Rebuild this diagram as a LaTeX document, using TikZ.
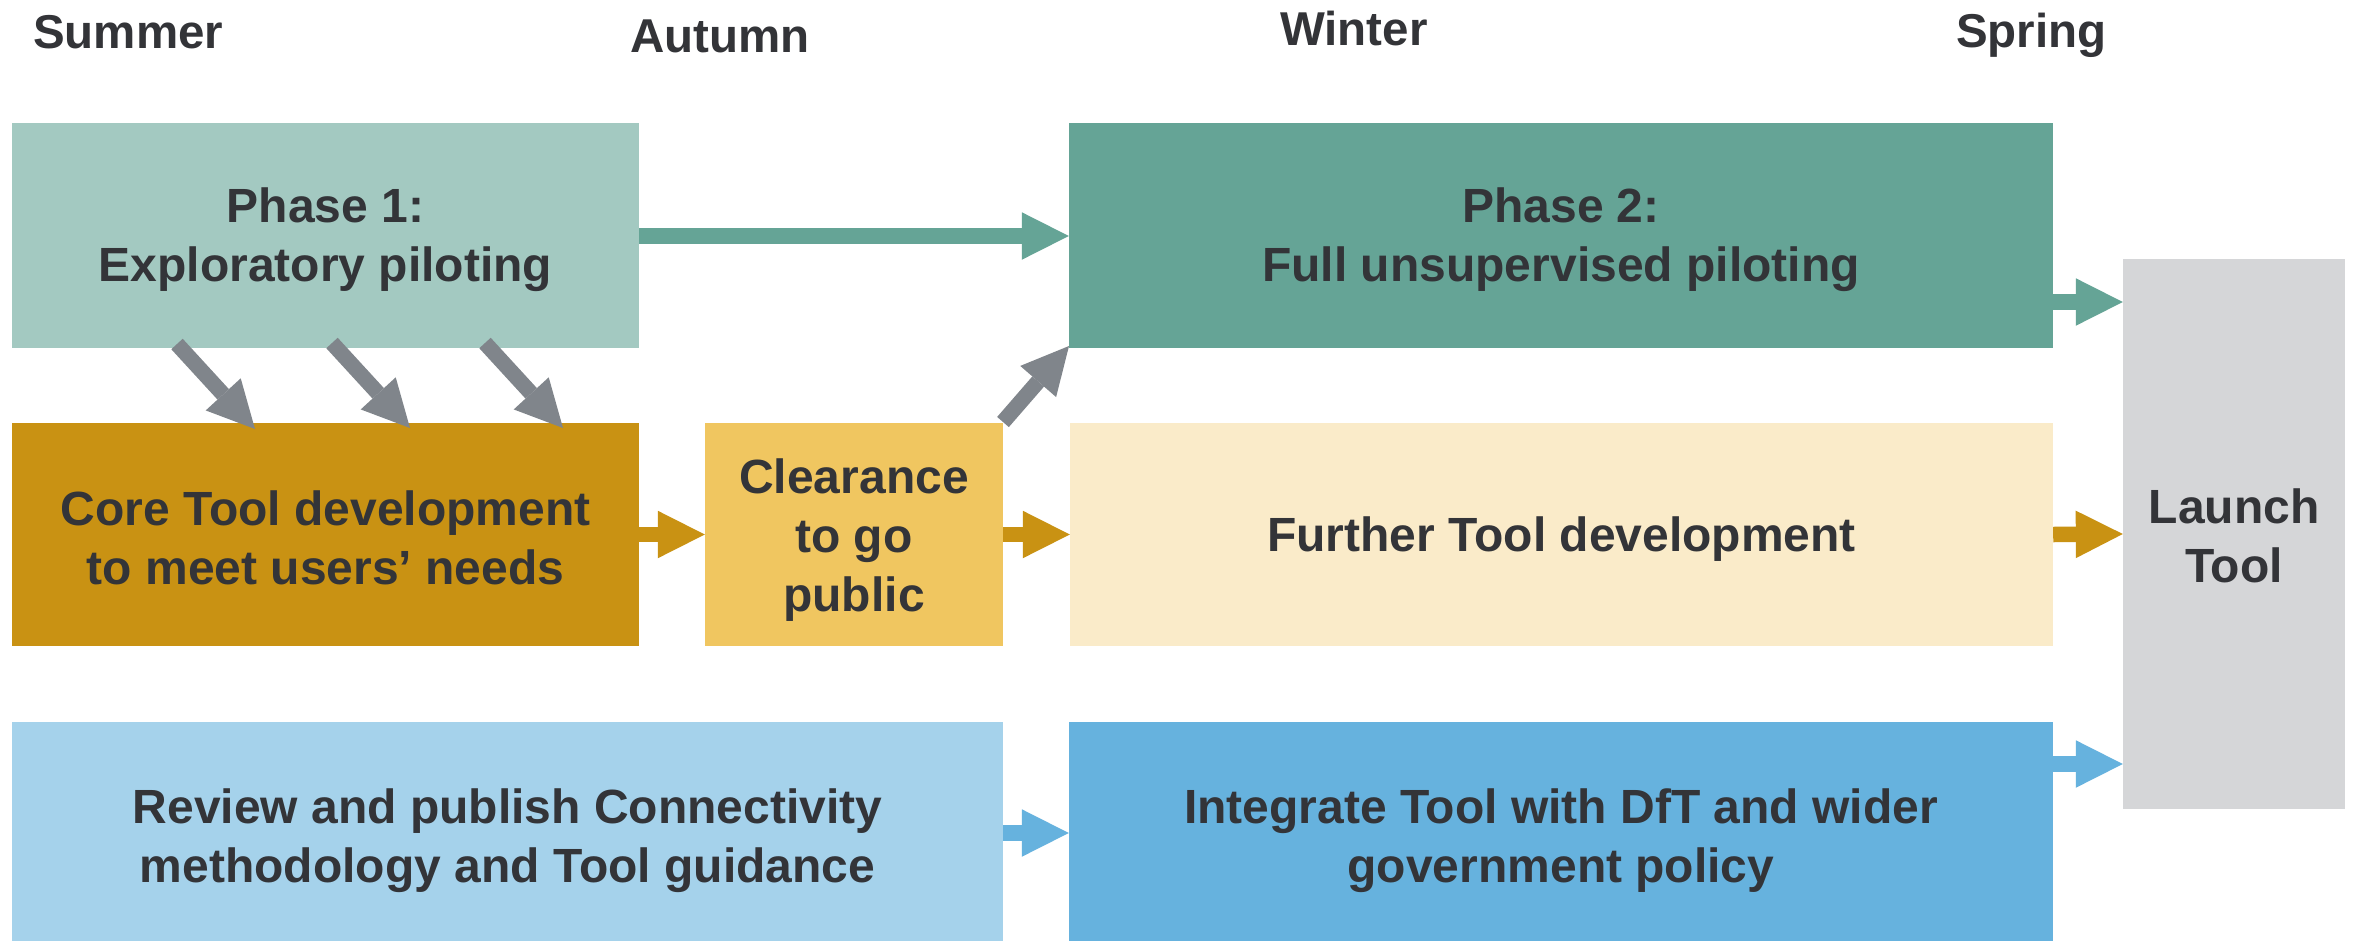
\documentclass[tikz,border=0pt]{standalone}
\usepackage{fontspec}
\setmainfont{Liberation Sans}
\usetikzlibrary{arrows.meta}
\definecolor{ptxt}{HTML}{333438}
\definecolor{pone}{HTML}{A3C9C1}
\definecolor{ptwo}{HTML}{65A496}
\definecolor{pcore}{HTML}{C99213}
\definecolor{pclear}{HTML}{F0C660}
\definecolor{pfurther}{HTML}{FAEBC9}
\definecolor{preview}{HTML}{A5D2EB}
\definecolor{pinteg}{HTML}{66B2DE}
\definecolor{plaunch}{HTML}{D5D6D8}
\definecolor{pgrey}{HTML}{80858B}
\tikzset{
  box/.style={draw=none, inner sep=0pt},
  txt/.style={inner sep=0pt, align=center, text=ptxt,
    font=\fontsize{48}{59}\selectfont\bfseries},
  season/.style={anchor=base west, inner sep=0pt, text=ptxt,
    font=\fontsize{47.5}{58}\selectfont\bfseries},
  fat/.style={line width=15.5pt,
    -{Triangle[width=47.5pt,length=47pt,line width=0pt]}},
}
\begin{document}
\begin{tikzpicture}[x=1pt,y=-1pt]
\useasboundingbox (0,0) rectangle (2354,940);
\fill[white] (0,0) rectangle (2354,940);

% season labels
\node[season] (summer) at (33,48) {Summer};
\node[season] (autumn) at (630,52) {Autumn};
\node[season] (winter) at (1280,45) {Winter};
\node[season] (spring) at (1956,47) {Spring};

% boxes
\node[box, fill=pone, minimum width=627pt, minimum height=225pt] (p1) at (325.5,235.5) {};
\node[box, fill=ptwo, minimum width=984pt, minimum height=225pt] (p2) at (1561,235.5) {};
\node[box, fill=pcore, minimum width=627pt, minimum height=223pt] (core) at (325.5,534.5) {};
\node[box, fill=pclear, minimum width=298pt, minimum height=223pt] (clear) at (854,534.5) {};
\node[box, fill=pfurther, minimum width=983pt, minimum height=223pt] (further) at (1561.5,534.5) {};
\node[box, fill=preview, minimum width=991pt, minimum height=228pt] (review) at (507.5,836) {};
\node[box, fill=pinteg, minimum width=984pt, minimum height=228pt] (integ) at (1561,836) {};
\node[box, fill=plaunch, minimum width=222pt, minimum height=550pt] (launch) at (2234,534) {};

% texts
\node[txt] (p1t) at ([yshift=-4.5pt]p1.center) {Phase 1:\\Exploratory piloting};
\node[txt] (p2t) at ([yshift=-4.5pt]p2.center) {Phase 2:\\Full unsupervised piloting};
\node[txt] (coret) at ([yshift=-3.5pt]core.center) {Core Tool development\\to meet users’ needs};
\node[txt] (cleart) at ([yshift=-6pt]clear.center) {Clearance\\to go\\public};
\node[txt] (furthert) at ([yshift=-4.5pt]further.center) {Further Tool development};
\node[txt] (reviewt) at ([yshift=-4.5pt]review.center) {Review and publish Connectivity\\methodology and Tool guidance};
\node[txt] (integt) at ([yshift=-4.5pt]integ.center) {Integrate Tool with DfT and wider\\government policy};
\node[txt] (launcht) at ([yshift=-1.5pt]launch.center) {Launch\\Tool};

% horizontal arrows
\draw[fat, ptwo] (p1.east |- 0,236) -- (p2.west |- 0,236);
\draw[fat, ptwo] (p2.east |- 0,302) -- (launch.west |- 0,302);
\draw[fat, pcore] (core.east) -- (clear.west);
\draw[fat, pcore] (clear.east) -- (further.west);
\draw[fat, pcore] (further.east) -- (launch.west);
\draw[fat, pinteg] (review.east |- 0,833) -- (integ.west |- 0,833);
\draw[fat, pinteg] (integ.east |- 0,764) -- (launch.west |- 0,764);

% grey arrows
\coordinate (ga1) at (177,344);
\coordinate (gb1) at (255,429);
\coordinate (ga2) at (332,343);
\coordinate (gb2) at (410,428);
\coordinate (ga3) at (485,343);
\coordinate (gb3) at (563,428);
\coordinate (gc) at (1003,422);
\coordinate (gd) at (1069,346);
\draw[fat, pgrey] (ga1) -- (gb1);
\draw[fat, pgrey] (ga2) -- (gb2);
\draw[fat, pgrey] (ga3) -- (gb3);
\draw[fat, pgrey] (gc) -- (gd);
\end{tikzpicture}
\end{document}
